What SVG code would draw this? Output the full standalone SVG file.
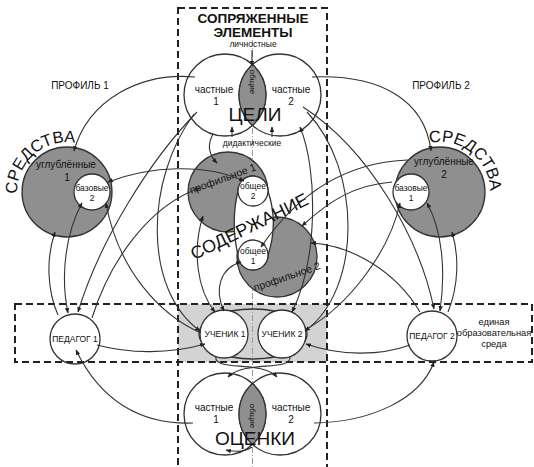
<svg xmlns="http://www.w3.org/2000/svg" width="534" height="467" viewBox="0 0 534 467">
<defs>
<marker id="ah" viewBox="0 0 10 10" refX="9" refY="5" markerWidth="5" markerHeight="5" orient="auto-start-reverse">
<path d="M0,1 L10,5 L0,9 Z" fill="#222"/>
</marker>
<path id="arcL" d="M17,194 A50,50 0 0 1 92,149"/>
<path id="arcR" d="M429.6,143 A50,50 0 0 1 490,196"/>
</defs>
<style>
text{font-family:"Liberation Sans",Arial,sans-serif;fill:#111;text-anchor:middle}
.w{fill:#fff;stroke:#333;stroke-width:1.3}
.g{fill:#8f8f8f;stroke:#333;stroke-width:1.3}
.wo{fill:none;stroke:#333;stroke-width:1.3}
.dash{fill:none;stroke:#222;stroke-width:2;stroke-dasharray:7 4}
.ln{fill:none;stroke:#333;stroke-width:1.1;marker-end:url(#ah)}
.bi{marker-start:url(#ah)}
.s7{font-size:8px}
.s8{font-size:8.5px}
.s10{font-size:10px}
.big{font-size:19px}
.hd{font-size:13.5px;font-weight:bold}
</style>
<rect width="534" height="467" fill="#fff"/>
<rect x="178" y="304" width="149" height="58" fill="#d3d3d3"/>
<line x1="252.5" y1="40" x2="252.5" y2="467" stroke="#999" stroke-width="1" stroke-dasharray="6 2 1 2"/>

<g id="celi">
<circle class="wo" cx="225" cy="95" r="41"/>
<circle class="wo" cx="280" cy="95" r="41"/>
<path class="g" d="M252.5,64.6 A41,41 0 0 1 252.5,125.4 A41,41 0 0 1 252.5,64.6 Z"/>
<text class="s10" x="214" y="93">частные</text>
<text class="s10" x="216" y="105">1</text>
<text class="s10" x="291" y="93">частные</text>
<text class="s10" x="291" y="105">2</text>
<text class="s7" transform="translate(250,82) rotate(90)">общие</text>
<text class="big" x="255" y="121">ЦЕЛИ</text>
</g>

<g id="ocenki">
<circle class="wo" cx="225" cy="414" r="41"/>
<circle class="wo" cx="280" cy="414" r="41"/>
<path class="g" d="M252.5,383.6 A41,41 0 0 1 252.5,444.4 A41,41 0 0 1 252.5,383.6 Z"/>
<text class="s10" x="214" y="411">частные</text>
<text class="s10" x="216" y="423">1</text>
<text class="s10" x="291" y="411">частные</text>
<text class="s10" x="291" y="423">2</text>
<text class="s7" transform="translate(250,416) rotate(90)">общие</text>
<text class="big" x="255" y="445">ОЦЕНКИ</text>
</g>

<g id="soderzhanie">
<circle class="g" cx="228" cy="192" r="40"/>
<circle class="g" cx="277" cy="257" r="40"/>
<path class="w" d="M238,191 A15,15 0 0 1 268,191 C275,212 275,234 268,255 A15,15 0 0 1 238,255 C233,234 233,212 238,191 Z"/>
<circle class="w" cx="253" cy="191" r="15"/>
<circle class="w" cx="253" cy="255" r="15"/>
<text class="s8" x="253" y="189">общее</text>
<text class="s8" x="253" y="199">2</text>
<text class="s8" x="253" y="254">общее</text>
<text class="s8" x="253" y="264">1</text>
<text style="font-size:10.5px" transform="translate(224,182) rotate(-20)">профильное 1</text>
<text style="font-size:10.5px" transform="translate(288,280) rotate(-19)">профильное 2</text>
<text style="font-size:18px" transform="translate(252,232) rotate(-26)">СОДЕРЖАНИЕ</text>
</g>

<g id="sredstva1">
<circle class="g" cx="67" cy="192" r="45"/>
<circle class="w" cx="92" cy="192" r="18"/>
<text class="s10" x="66" y="168">углублённые</text>
<text class="s10" x="67" y="181">1</text>
<text class="s8" x="92" y="191">базовые</text>
<text class="s8" x="92" y="201">2</text>
<text style="font-size:16.5px;text-anchor:start"><textPath href="#arcL">СРЕДСТВА</textPath></text>
</g>

<g id="sredstva2">
<circle class="g" cx="440" cy="192" r="45"/>
<circle class="w" cx="411" cy="192" r="18"/>
<text class="s10" x="444" y="165">углублённые</text>
<text class="s10" x="444" y="178">2</text>
<text class="s8" x="411" y="191">базовые</text>
<text class="s8" x="411" y="201">1</text>
<text style="font-size:16.5px;text-anchor:start"><textPath href="#arcR">СРЕДСТВА</textPath></text>
</g>

<g id="pedagog1">
<circle class="w" cx="75" cy="339" r="25"/>
<text class="s8" x="75" y="342">ПЕДАГОГ 1</text>
</g>
<g id="pedagog2">
<circle class="w" cx="432" cy="336" r="25"/>
<text class="s8" x="432" y="339">ПЕДАГОГ 2</text>
</g>
<ellipse class="wo" cx="253" cy="334" rx="54" ry="25"/>
<g id="uchenik1">
<circle class="w" cx="224" cy="334" r="24"/>
<text class="s8" x="225" y="337">УЧЕНИК 1</text>
</g>
<g id="uchenik2">
<circle class="w" cx="282" cy="334" r="24"/>
<text class="s8" x="282" y="337">УЧЕНИК 2</text>
</g>

<g id="frames">
<rect class="dash" x="178" y="8" width="149" height="470"/>
<rect class="dash" x="15" y="304" width="517" height="58"/>
</g>

<g id="labels">
<text class="hd" x="253" y="23">СОПРЯЖЕННЫЕ</text>
<text class="hd" x="253" y="37">ЭЛЕМЕНТЫ</text>
<text class="s8" x="253" y="47">личностные</text>
<text class="s8" x="252" y="146">дидактические</text>
<text class="s10" x="80" y="89">ПРОФИЛЬ 1</text>
<text class="s10" x="441" y="89">ПРОФИЛЬ 2</text>
<text style="font-size:9.3px" x="494" y="325">единая</text>
<text style="font-size:9.3px" x="494" y="336">образовательная</text>
<text style="font-size:9.3px" x="494" y="347">среда</text>
</g>

<g id="connectors">
<path class="ln" d="M195,77 C140,72 88,100 74,151"/>
<path class="ln" d="M58,315 C47,290 46,258 55,232"/>
<path class="ln bi" d="M82,203 C66,232 60,275 68,313"/>
<path class="ln" d="M197,112 C150,160 100,240 78,312"/>
<path class="ln" d="M92,318 C110,260 150,205 200,188"/>
<path class="ln" d="M201,333 C160,315 118,270 106,203"/>
<path class="ln" d="M194,114 C145,180 143,290 200,331"/>
<path class="ln bi" d="M108,182 C150,166 205,163 244,181"/>
<path class="ln" d="M97,345 C130,354 170,354 205,344"/>
<path class="ln" d="M193,423 C140,425 100,400 76,350"/>
<path class="ln" d="M213,134 C207,145 209,155 217,163"/>
<path class="ln bi" d="M215,312 C197,290 192,250 203,216"/>
<path class="ln bi" d="M224,311 C214,290 220,268 241,262"/>
<path class="ln" d="M312,77 C380,74 425,100 431,151"/>
<path class="ln" d="M448,312 C459,285 459,255 452,232"/>
<path class="ln bi" d="M440,311 C446,270 442,230 427,203"/>
<path class="ln" d="M305,330 C350,305 390,250 400,203"/>
<path class="ln" d="M303,107 C370,150 420,240 434,309"/>
<path class="ln" d="M307,112 C362,170 362,290 305,331"/>
<path class="ln" d="M420,312 C395,270 350,245 311,243"/>
<path class="ln" d="M410,345 C380,356 340,356 306,344"/>
<path class="ln" d="M314,423 C370,422 420,400 434,362"/>
<path class="ln" d="M408,160 C350,162 300,190 261,247"/>
<path class="ln" d="M392,182 C355,185 330,200 302,226"/>
<path class="ln bi" d="M300,127 C318,170 318,260 292,312"/>
<path class="ln" d="M232,137 L232,127"/>
<path class="ln" d="M272,137 L272,127"/>
<path class="ln" d="M252,50 L252,66"/>
<path class="ln" d="M216,356 C212,372 262,360 277,377"/>
<path class="ln" d="M290,356 C293,372 244,360 228,377"/>
<path class="ln" d="M252,447 C245,452 235,452 226,450"/>
</g>
</svg>
